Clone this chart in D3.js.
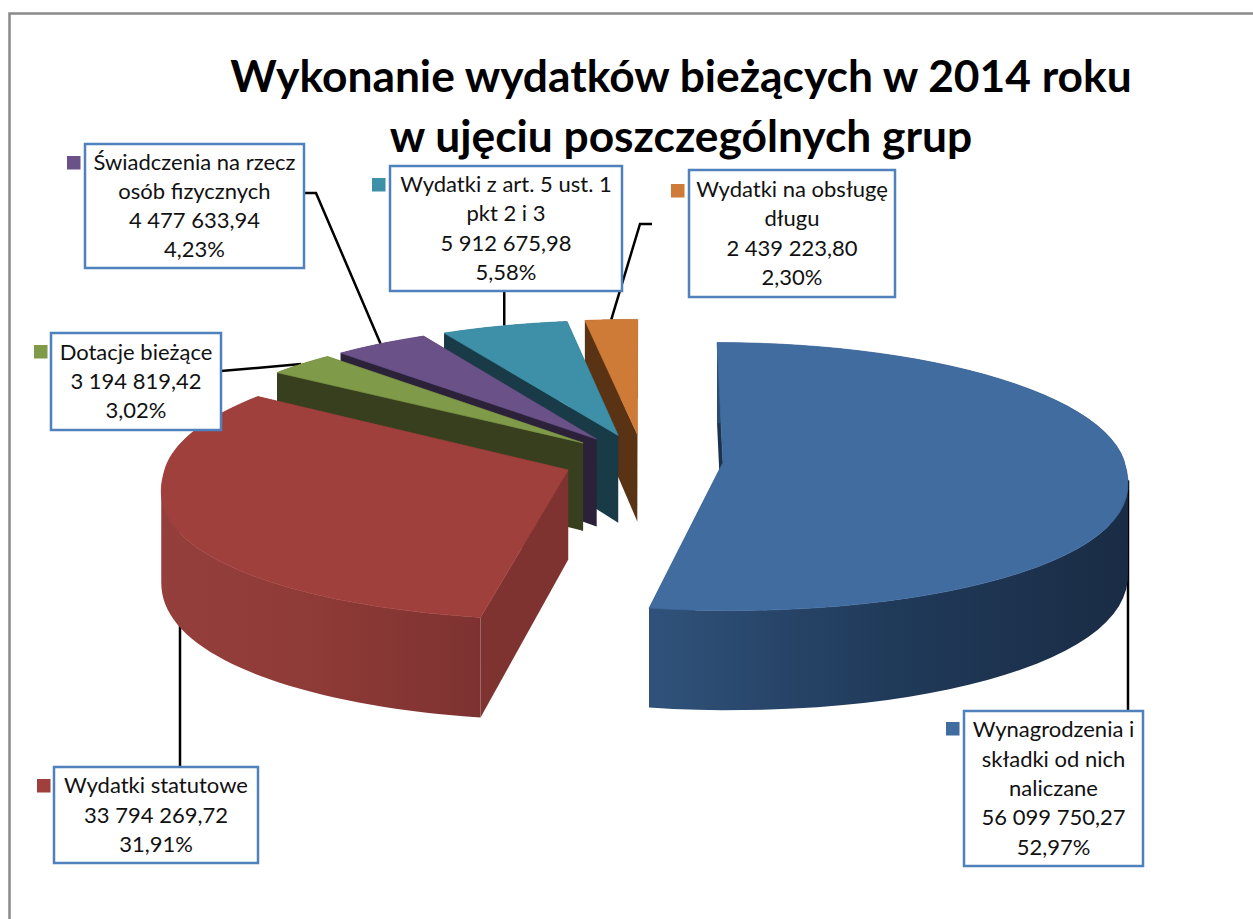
<!DOCTYPE html>
<html lang="pl">
<head>
<meta charset="utf-8">
<title>Wykonanie wydatków bieżących w 2014 roku</title>
<script src="https://cdn.jsdelivr.net/npm/d3@7"></script>
<style>
    html, body { margin: 0; background: #fff; }
    svg { display: block; font-family: Lato, "Open Sans", sans-serif; }
</style>
</head>
<body>
<div id="chart"></div>
<script>
// Data
const titleLines = ["Wykonanie wydatków bieżących w 2014 roku", "w ujęciu poszczególnych grup"];
const nameLines = [
    ["Wynagrodzenia i", "składki od nich", "naliczane"],
    ["Wydatki statutowe"],
    ["Dotacje bieżące"],
    ["Świadczenia na rzecz", "osób fizycznych"],
    ["Wydatki z art. 5 ust. 1", "pkt 2 i 3"],
    ["Wydatki na obsługę", "długu"]
];
const amounts = [56099750.27, 33794269.72, 3194819.42, 4477633.94, 5912675.98, 2439223.80];

// Colours, same order as the data
const topColors = ["#416c9f", "#9f403c", "#7f9a48", "#6a5188", "#3e90a8", "#ce7b38"];
const wallColors = ["#1c3350", "#7f3331", "#373f1e", "#2b2138", "#193b48", "#5a3315"];
const rimStops = [
    ["#30527a", "#203a5a", "#1a2c45"],
    ["#943f3b", "#8e3a36", "#7d3231"],
    ["#373f1e", "#373f1e", "#373f1e"],
    ["#2b2138", "#2b2138", "#2b2138"],
    ["#193b48", "#193b48", "#193b48"],
    ["#5a3315", "#5a3315", "#5a3315"]
];

// Label boxes [x0, y0, x1, y1], key square [x, y], leader start and elbow (null x = straight to the rim)
const boxes = [
    [964, 711, 1143, 866], [54, 767, 258, 863], [51, 333, 221, 430],
    [85, 144, 304, 268], [390, 166, 622, 291], [689, 170, 895, 297]
];
const keys = [[946, 722], [37, 779], [34, 345], [67, 156], [372, 178], [671, 184]];
const leaders = [
    [[null, 711]], [[180, 767], [180, 600]], [[221, 371]],
    [[304, 193], [316, 193]], [[null, 291]], [[652, 224], [640, 224]]
];

const W = 1253, H = 919;
const view = { cx: 643, cy: 460, rx: 401, ry: 132, depth: 89, explode: 0.2, perspX: 0.08, perspY: 0.105, bulge: 0.85 };
const paintOrder = [5, 4, 3, 2, 1, 0];

const fmt = d3.formatLocale({ decimal: ",", thousands: " ", grouping: [3], currency: ["", ""] });
const fmtAmount = fmt.format(",.2f");
const fmtShare = fmt.format(".2%");
const total = d3.sum(amounts);

const svg = d3.select("#chart").append("svg").attr("width", W).attr("height", H);
const defs = svg.append("defs");

// Frame, open on the right and at the bottom
svg.append("path")
    .attr("d", `M9.5,${H} V13.5 H${W}`)
    .attr("fill", "none")
    .attr("stroke", "#8a8a8a")
    .attr("stroke-width", 2.5);

const slices = d3.pie().sort(null)(amounts);

// Plan position on the unit disc -> screen, with the slice pushed out along its bisector.
// The front of the rim bulges a little more than a plain ellipse in the original.
const project = (s, angle, r, drop = 0) => {
    const mid = (s.startAngle + s.endAngle) / 2;
    const front = -Math.cos(angle);
    const v = front > 0 ? Math.pow(front, view.bulge) : front;
    const X = view.explode * Math.sin(mid) + r * Math.sin(angle);
    const Z = -view.explode * Math.cos(mid) + r * v;
    const kx = 1 / (1 - view.perspX * Z);
    const ky = 1 / (1 - view.perspY * Z);
    return [view.cx + X * view.rx * kx, view.cy + (Z * view.ry + drop) * ky];
};

const arcPoints = (s, drop) => d3.range(0, 61)
    .map(i => project(s, s.startAngle + (s.endAngle - s.startAngle) * i / 60, 1, drop));

const line = d3.line();

// Wall as one quad per arc step, all wound the same way so overlaps at the fold don't cancel
const wallPath = s => {
    const upper = arcPoints(s, 0);
    const lower = arcPoints(s, view.depth);
    return d3.range(0, 60).map(i => {
        const quad = [upper[i], upper[i + 1], lower[i + 1], lower[i]];
        if (d3.polygonArea(quad) < 0) quad.reverse();
        return line(quad) + "Z";
    }).join("");
};

// Leaders go under the pie, as the red one does
const leaderG = svg.append("g");
slices.forEach((s, i) => {
    const rim = project(s, (s.startAngle + s.endAngle) / 2, 1);
    const pts = leaders[i].map(p => [p[0] === null ? rim[0] : p[0], p[1]]);
    leaderG.append("path")
        .attr("d", line([...pts, rim]))
        .attr("fill", "none")
        .attr("stroke", "#000")
        .attr("stroke-width", 2.5);
});

const pieG = svg.append("g");
paintOrder.forEach(i => {
    const s = slices[i];
    const g = pieG.append("g");

    // Radial walls
    [s.startAngle, s.endAngle].forEach(a => {
        const pts = [
            project(s, a, 1), project(s, a, 0),
            project(s, a, 0, view.depth), project(s, a, 1, view.depth)
        ];
        g.append("path").attr("d", line(pts) + "Z").attr("fill", wallColors[i]);
    });

    const gradId = `rim${i}`;
    const grad = defs.append("linearGradient")
        .attr("id", gradId)
        .attr("gradientUnits", "userSpaceOnUse")
        .attr("x1", d3.min(arcPoints(s, 0), d => d[0]))
        .attr("x2", d3.max(arcPoints(s, 0), d => d[0]))
        .attr("y1", 0).attr("y2", 0);
    rimStops[i].forEach((c, j) => grad.append("stop").attr("offset", j / 2).attr("stop-color", c));

    // Outer wall
    g.append("path")
        .attr("d", wallPath(s))
        .attr("fill", `url(#${gradId})`);

    // Top, the thin stroke closes the seam against the wall
    g.append("path")
        .attr("d", line([project(s, s.startAngle, 0), ...arcPoints(s, 0)]) + "Z")
        .attr("fill", topColors[i])
        .attr("stroke", topColors[i])
        .attr("stroke-width", 0.7);
});

// Title
svg.append("g").selectAll("text")
    .data(titleLines)
    .join("text")
    .attr("x", 681)
    .attr("y", (d, i) => 92 + i * 60)
    .attr("text-anchor", "middle")
    .attr("font-size", 44.3)
    .attr("font-weight", 700)
    .attr("fill", "#000")
    .text(d => d);

// Data labels
const labelG = svg.append("g");
slices.forEach((s, i) => {
    const [x0, y0, x1, y1] = boxes[i];
    labelG.append("rect")
        .attr("x", x0).attr("y", y0)
        .attr("width", x1 - x0).attr("height", y1 - y0)
        .attr("fill", "#fff")
        .attr("stroke", "#4f81bd")
        .attr("stroke-width", 2.5);

    labelG.append("rect")
        .attr("x", keys[i][0]).attr("y", keys[i][1])
        .attr("width", 13.5).attr("height", 13.5)
        .attr("fill", topColors[i]);

    const rows = [...nameLines[i], fmtAmount(amounts[i]), fmtShare(amounts[i] / total)];
    const step = 29.3;
    const first = (y0 + y1) / 2 - (rows.length - 1) * step / 2 + 7.5;
    labelG.selectAll(null)
        .data(rows)
        .join("text")
        .attr("x", (x0 + x1) / 2)
        .attr("y", (d, j) => first + j * step)
        .attr("text-anchor", "middle")
        .attr("font-size", 22)
        .attr("fill", "#111")
        .text(d => d);
});
</script>
</body>
</html>
